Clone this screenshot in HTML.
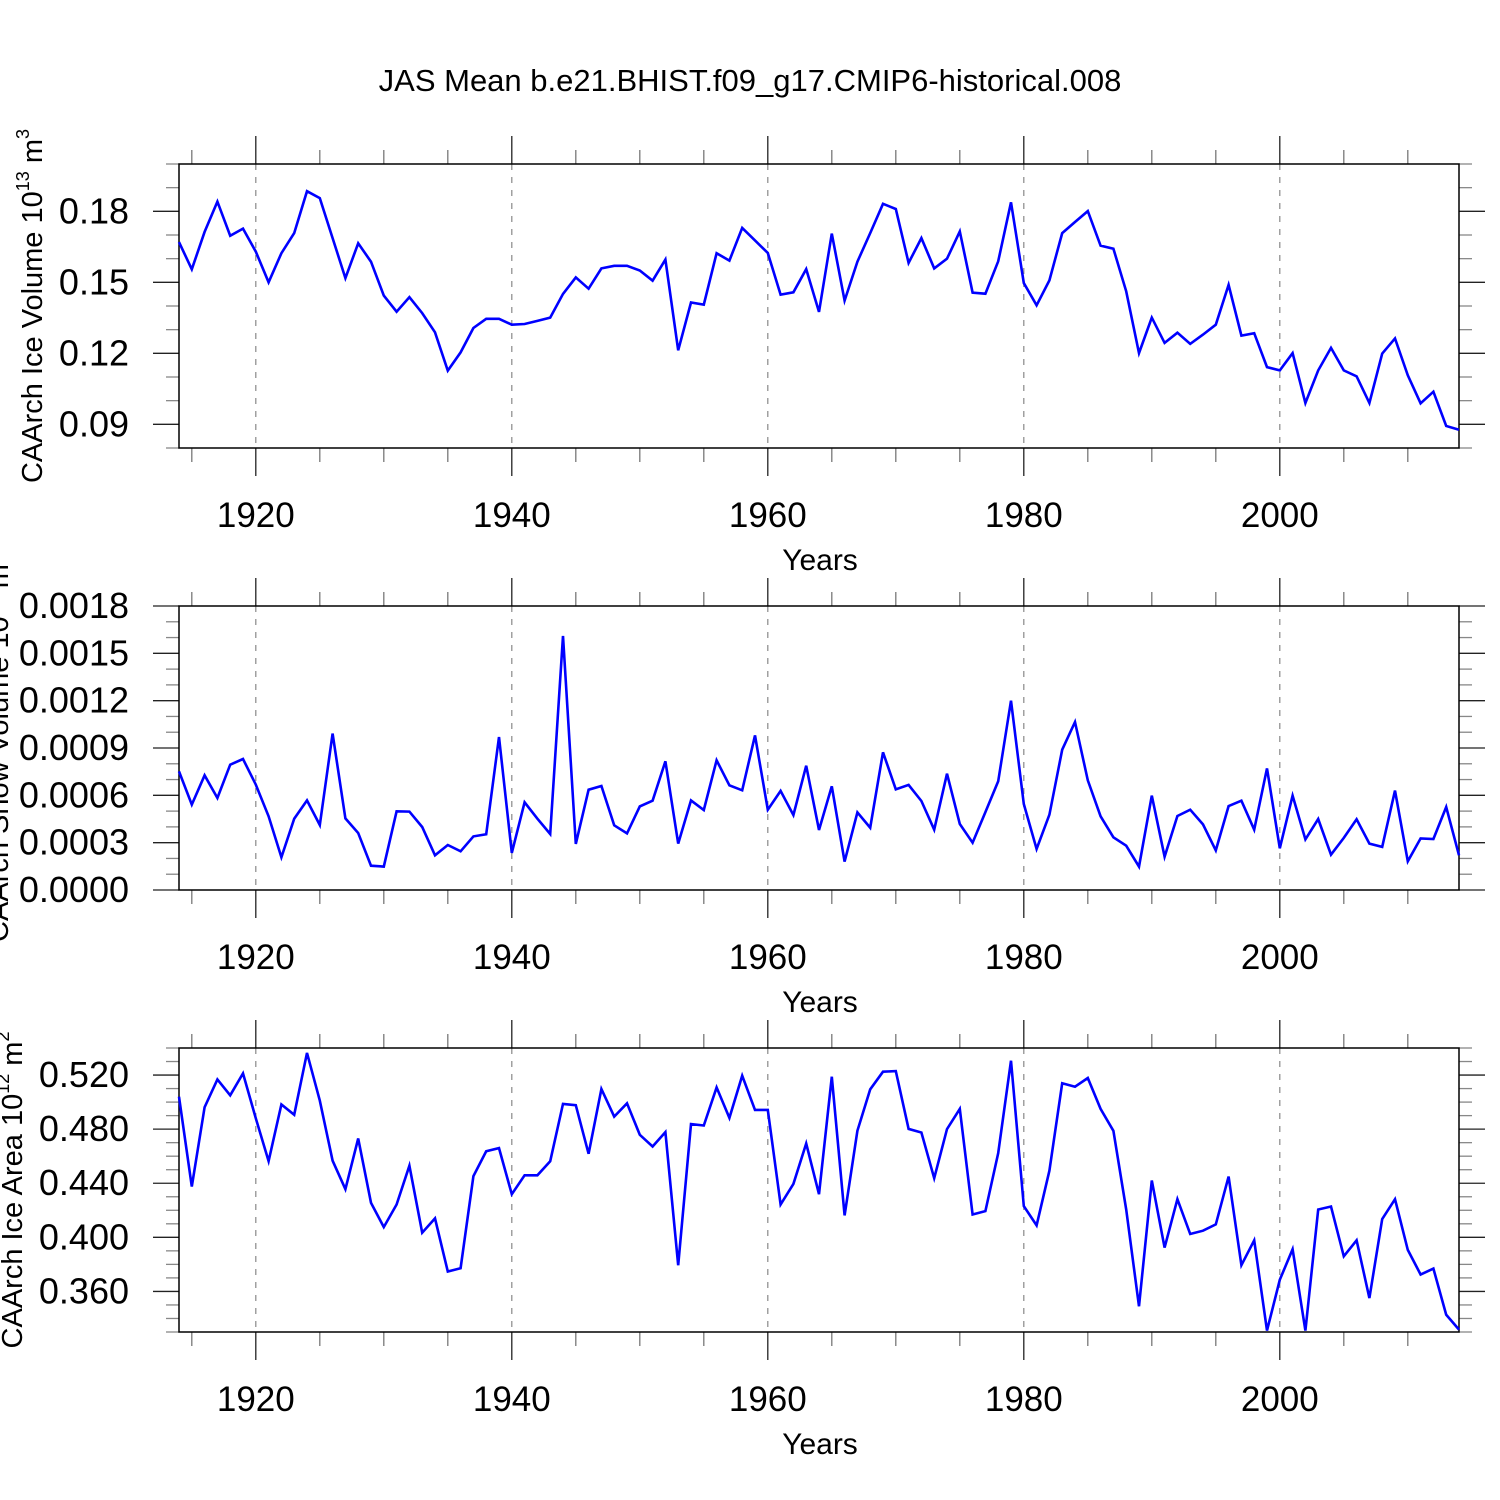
<!DOCTYPE html>
<html><head><meta charset="utf-8"><style>
html,body{margin:0;padding:0;background:#fff;}
svg{display:block;font-family:"Liberation Sans",Arial,sans-serif;}
</style></head><body>
<svg id="chart" width="1500" height="1500" viewBox="0 0 1500 1500" xmlns="http://www.w3.org/2000/svg">
<rect width="1500" height="1500" fill="#fff"/>
<text x="750" y="91" font-size="31" text-anchor="middle">JAS Mean b.e21.BHIST.f09_g17.CMIP6-historical.008</text>
<text transform="translate(42,306) rotate(-90)" font-size="29" text-anchor="middle">CAArch Ice Volume 10<tspan font-size="18" dy="-13">13</tspan><tspan dy="13"> m</tspan><tspan font-size="18" dy="-13">3</tspan></text>
<text transform="translate(8,748) rotate(-90)" font-size="29" text-anchor="middle">CAArch Snow Volume 10<tspan font-size="18" dy="-13">13</tspan><tspan dy="13"> m</tspan><tspan font-size="18" dy="-13">3</tspan></text>
<text transform="translate(22,1190) rotate(-90)" font-size="29" text-anchor="middle">CAArch Ice Area 10<tspan font-size="18" dy="-13">12</tspan><tspan dy="13"> m</tspan><tspan font-size="18" dy="-13">2</tspan></text>
<g id="panels"></g>
</svg>
<script>
const years = [];
for (let y = 1914; y <= 2014; y++) years.push(y);
const iceVolume = [0.167,0.1555,0.1713,0.1841,0.1697,0.1727,0.163,0.150,0.1623,0.1708,
0.1885,0.1856,0.1687,0.1518,0.1665,0.1587,0.1444,0.1376,0.1437,0.137,
0.1289,0.1127,0.1204,0.1307,0.1346,0.1346,0.1321,0.1324,0.1337,0.1351,
0.1451,0.1521,0.1473,0.1559,0.157,0.157,0.155,0.1507,0.1596,0.1213,
0.1415,0.1406,0.1623,0.1592,0.173,0.1677,0.1624,0.1448,0.1458,0.1556,
0.1375,0.1706,0.1423,0.1587,0.1708,0.1832,0.181,0.1582,0.1687,0.1559,
0.160,0.1715,0.1456,0.1452,0.1589,0.1838,0.1497,0.1403,0.1508,0.1708,
0.1755,0.1801,0.1655,0.1642,0.1462,0.1201,0.1351,0.1244,0.1287,0.124,
0.1279,0.1321,0.1489,0.1275,0.1285,0.1142,0.1128,0.1201,0.099,0.1128,
0.1223,0.1128,0.1103,0.099,0.1199,0.1263,0.1107,0.0989,0.1038,0.0893,0.0877];
const snowVolume = [7.52,5.41,7.27,5.83,7.94,8.30,6.68,4.67,2.07,4.52,
5.68,4.12,9.91,4.54,3.61,1.54,1.48,4.99,4.97,3.99,
2.20,2.85,2.45,3.40,3.53,9.70,2.35,5.56,4.52,3.55,
16.1,2.92,6.36,6.59,4.10,3.59,5.30,5.66,8.16,2.94,
5.68,5.07,8.22,6.63,6.32,9.80,5.09,6.28,4.75,7.88,
3.80,6.57,1.80,4.92,3.95,8.73,6.38,6.66,5.64,3.82,
7.37,4.18,3.00,4.94,6.89,12.0,5.45,2.60,4.77,8.89,
10.65,6.95,4.67,3.34,2.81,1.48,5.98,2.11,4.69,5.09,
4.16,2.51,5.32,5.66,3.82,7.71,2.64,5.98,3.21,4.50,
2.24,3.30,4.48,2.94,2.73,6.30,1.82,3.27,3.23,5.26,2.20].map(v => v * 0.0001);
const iceArea = [0.5040,0.4375,0.4962,0.5168,0.5050,0.5212,0.488,0.4564,0.4982,0.4906,
0.5364,0.5011,0.4567,0.4356,0.4731,0.4255,0.4076,0.4243,0.4530,0.4034,
0.4140,0.3747,0.3772,0.4452,0.4636,0.4660,0.4319,0.4459,0.4459,0.4562,
0.4987,0.4977,0.4618,0.5097,0.4893,0.4991,0.4758,0.4672,0.4778,0.3794,
0.4837,0.4827,0.5109,0.4883,0.5195,0.4942,0.4942,0.4243,0.4395,0.4694,
0.4319,0.5188,0.4162,0.4788,0.5094,0.5225,0.5229,0.4802,0.4775,0.4437,
0.4800,0.4950,0.4169,0.4194,0.4623,0.5306,0.4231,0.4088,0.4493,0.5139,
0.5114,0.5178,0.4950,0.4788,0.4206,0.3490,0.4420,0.3924,0.4282,0.4025,
0.4049,0.4096,0.4449,0.3794,0.3978,0.3310,0.3686,0.3912,0.3310,0.4206,
0.4228,0.3860,0.3978,0.3551,0.4135,0.4282,0.3907,0.3725,0.3769,0.3428,0.3318];
const xTickYears = [1920,1940,1960,1980,2000];
const xTickLabels = ["1920","1940","1960","1980","2000"];
const iceVolTicks = [0.09,0.12,0.15,0.18];
const iceVolLabels = ["0.09","0.12","0.15","0.18"];
const snowTicks = [0,0.0003,0.0006,0.0009,0.0012,0.0015,0.0018];
const snowLabels = ["0.0000","0.0003","0.0006","0.0009","0.0012","0.0015","0.0018"];
const areaTicks = [0.36,0.40,0.44,0.48,0.52];
const areaLabels = ["0.360","0.400","0.440","0.480","0.520"];

const NS = "http://www.w3.org/2000/svg";
const root = document.getElementById('panels');
function mk(tag, attrs, parent) {
  const e = document.createElementNS(NS, tag);
  for (const k in attrs) e.setAttribute(k, attrs[k]);
  parent.appendChild(e);
  return e;
}
const X0 = 179, X1 = 1459, YR0 = 1914, YR1 = 2014;
function xs(yr) { return X0 + (yr - YR0) / (YR1 - YR0) * (X1 - X0); }

function panel(name, top, bot, vmin, vmax, ticks, labels, minorStep, series) {
  const g = mk('g', {}, root);
  
  
  const ys = v => bot - (v - vmin) / (vmax - vmin) * (bot - top);
  xTickYears.forEach(yr => {
    const l = mk('line', {x1: xs(yr), x2: xs(yr), y1: top, y2: bot, stroke: '#888', 'stroke-width': 1.2, 'stroke-dasharray': '6,7'}, g);
    
    
  });
  for (let yr = 1915; yr <= 2010; yr += 5) {
    const major = yr % 20 === 0;
    const len = major ? 28 : 14;
    const x = xs(yr);
    mk('line', {x1: x, x2: x, y1: top, y2: top - len, stroke: major ? '#222' : '#777', 'stroke-width': 1.3}, g);
    mk('line', {x1: x, x2: x, y1: bot, y2: bot + len, stroke: major ? '#222' : '#777', 'stroke-width': 1.3}, g);
  }
  const nMinor = Math.round((vmax - vmin) / minorStep);
  for (let i = 0; i <= nMinor; i++) {
    const v = vmin + i * minorStep;
    const y = ys(v);
    const major = ticks.some(t => Math.abs(t - v) < minorStep / 10);
    const len = major ? 26 : 13;
    mk('line', {x1: X0, x2: X0 - len, y1: y, y2: y, stroke: major ? '#222' : '#888', 'stroke-width': 1.3}, g);
    mk('line', {x1: X1, x2: X1 + len, y1: y, y2: y, stroke: major ? '#222' : '#888', 'stroke-width': 1.3}, g);
  }
  const fr = mk('rect', {x: X0, y: top, width: X1 - X0, height: bot - top, fill: 'none', stroke: '#000', 'stroke-width': 1.5}, g);
  
  
  ticks.forEach((t, i) => {
    const tx = mk('text', {x: 129, y: ys(t) + 12, 'font-size': 36, 'text-anchor': 'end'}, g);
    tx.textContent = labels[i];
    
    
  });
  xTickYears.forEach((yr, i) => {
    const tx = mk('text', {x: xs(yr), y: bot + 79, 'font-size': 35, 'text-anchor': 'middle'}, g);
    tx.textContent = xTickLabels[i];
    
    
  });
  const xt = mk('text', {x: 820, y: bot + 122, 'font-size': 30, 'text-anchor': 'middle'}, g);
  xt.textContent = 'Years';
  
  
  const pts = series.map((v, i) => xs(years[i]).toFixed(1) + ',' + ys(v).toFixed(1)).join(' ');
  const pl = mk('polyline', {points: pts, fill: 'none', stroke: '#0000ff', 'stroke-width': 2.6, 'stroke-linejoin': 'miter'}, g);
  
  
}
panel('ice-volume', 164, 448, 0.08, 0.20, iceVolTicks, iceVolLabels, 0.01, iceVolume);
panel('snow-volume', 606, 890, 0, 0.0018, snowTicks, snowLabels, 0.0001, snowVolume);
panel('ice-area', 1048, 1332, 0.33, 0.54, areaTicks, areaLabels, 0.01, iceArea);
</script>
</body></html>
